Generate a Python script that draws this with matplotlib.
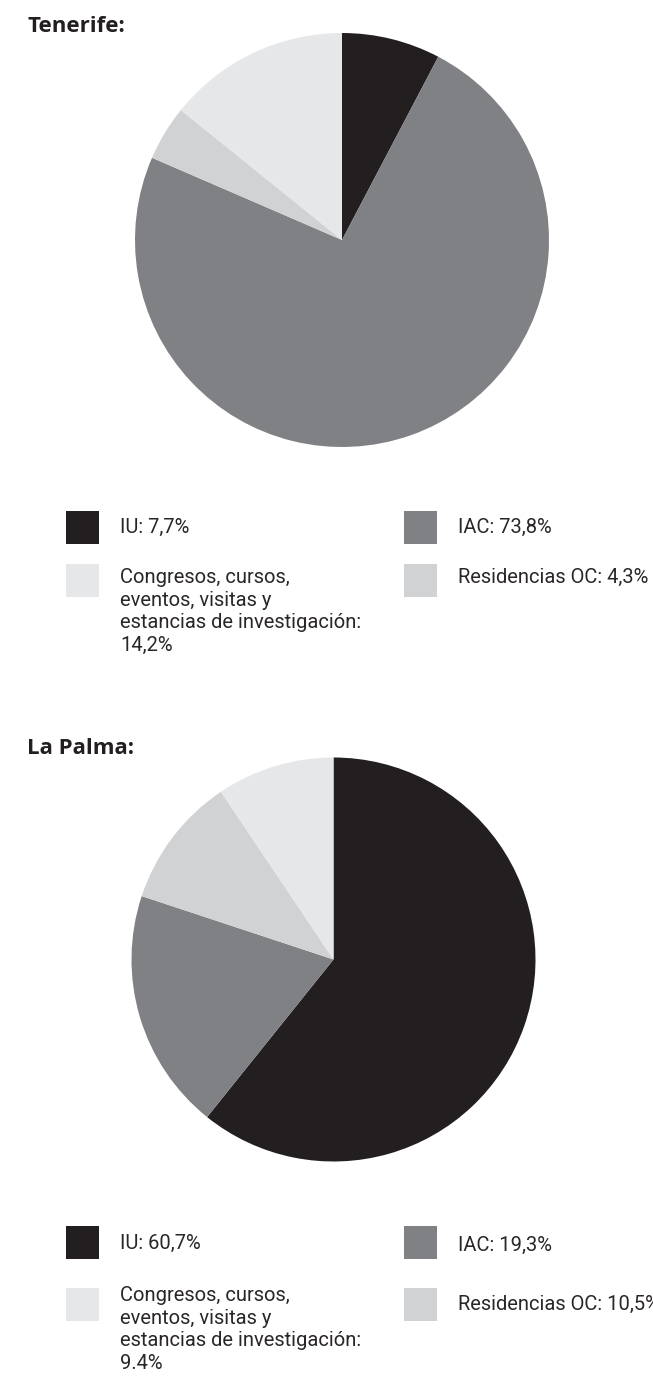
import matplotlib
matplotlib.use("Agg")
import matplotlib.pyplot as plt
from matplotlib.patches import Rectangle

W, H = 653, 1378

# data
categories = ["IU", "IAC", "Residencias OC", "Congresos"]
tenerife_values = [7.7, 73.8, 4.3, 14.2]
palma_values = [60.7, 19.3, 10.5, 9.4]
tenerife_labels = [
    "IU: 7,7%",
    "IAC: 73,8%",
    "Residencias OC: 4,3%",
    "Congresos, cursos,\neventos, visitas y\nestancias de investigación:\n14,2%",
]
palma_labels = [
    "IU: 60,7%",
    "IAC: 19,3%",
    "Residencias OC: 10,5%",
    "Congresos, cursos,\neventos, visitas y\nestancias de investigación:\n9.4%",
]
colors = ["#231f20", "#808184", "#d1d2d4", "#e6e7e8"]

TEXT_FONT = "Roboto"
TITLE_FONT = "Open Sans"


def fx(x):
    return x / W


def fy(y):
    return 1 - y / H


fig = plt.figure(figsize=(W / 100, H / 100), dpi=100)


def draw_pie(values, cx, cy, r):
    ax = fig.add_axes([fx(cx - r), fy(cy + r), 2 * r / W, 2 * r / H])
    ax.pie(values, colors=colors, startangle=90, counterclock=False,
           radius=1, wedgeprops={"linewidth": 0})
    ax.set_xlim(-1, 1)
    ax.set_ylim(-1, 1)
    ax.set_aspect("equal")
    ax.axis("off")


def legend_item(x, y_top, color, label, baseline, size=33):
    fig.patches.append(Rectangle((fx(x), fy(y_top + size)), size / W, size / H,
                                 transform=fig.transFigure, color=color,
                                 linewidth=0))
    for i, line in enumerate(label.split("\n")):
        fig.text(fx(x + 54), fy(baseline + i * 22.7), line,
                 fontsize=14.5, family=TEXT_FONT, color="#2a2627",
                 va="baseline", ha="left")


# Tenerife
fig.text(fx(27), fy(32), "Tenerife:", fontsize=16, family=TITLE_FONT,
         weight="bold", color="#231f20", va="baseline")
draw_pie(tenerife_values, 342, 240, 207)
legend_item(66, 511, colors[0], tenerife_labels[0], 533)
legend_item(404, 511, colors[1], tenerife_labels[1], 533)
legend_item(66, 564, colors[3], tenerife_labels[3], 583)
legend_item(404, 564, colors[2], tenerife_labels[2], 583)

# La Palma
fig.text(fx(27), fy(754), "La Palma:", fontsize=16, family=TITLE_FONT,
         weight="bold", color="#231f20", va="baseline")
draw_pie(palma_values, 333.5, 959.5, 202)
legend_item(66, 1226, colors[0], palma_labels[0], 1249)
legend_item(404, 1226, colors[1], palma_labels[1], 1251)
legend_item(66, 1288, colors[3], palma_labels[3], 1301)
legend_item(404, 1288, colors[2], palma_labels[2], 1310)

fig.savefig("out.png", dpi=100)
